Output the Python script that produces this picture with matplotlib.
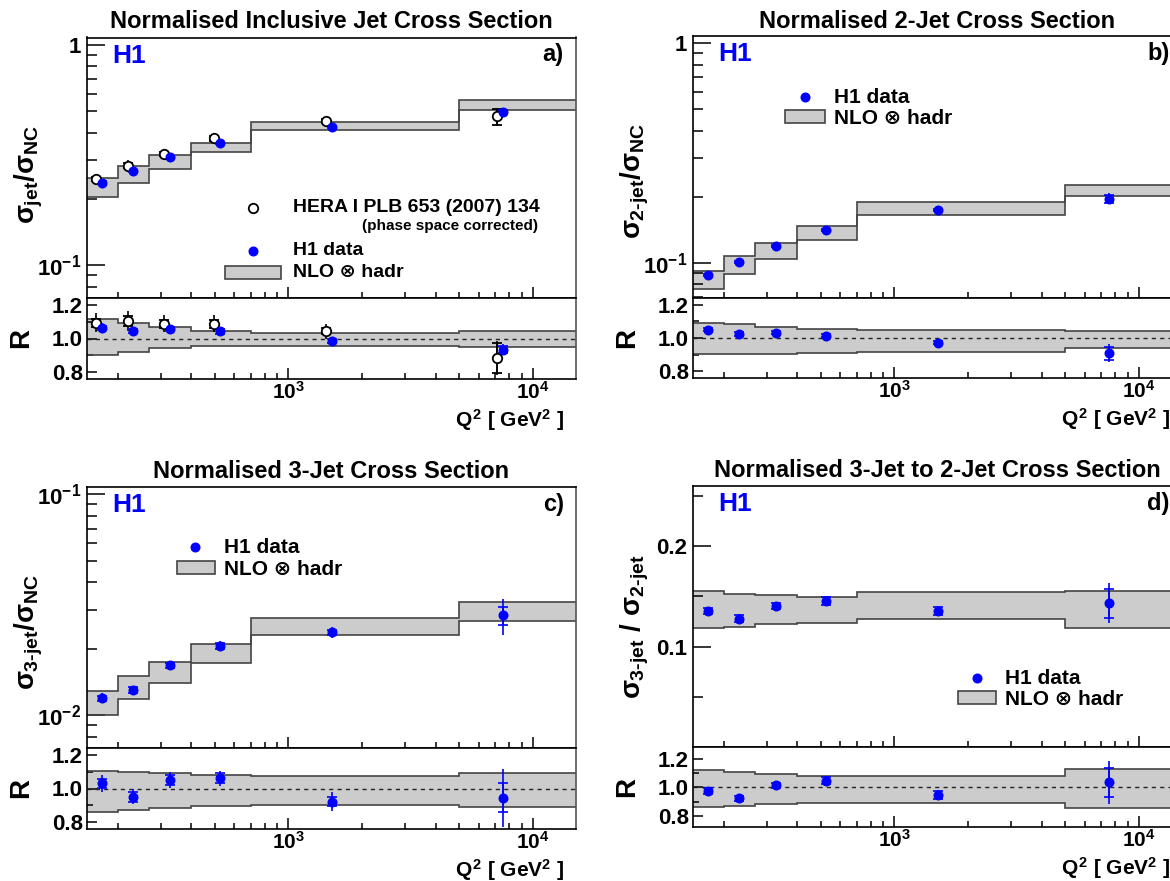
import matplotlib
matplotlib.use('Agg')
import matplotlib.pyplot as plt
from matplotlib.patches import Rectangle

plt.rcParams['font.family'] = ['Liberation Sans', 'DejaVu Sans']
plt.rcParams['font.weight'] = 'bold'
plt.rcParams['mathtext.fontset'] = 'custom'
plt.rcParams['mathtext.rm'] = 'Liberation Sans:bold'
plt.rcParams['mathtext.it'] = 'Liberation Sans:bold'
plt.rcParams['mathtext.bf'] = 'Liberation Sans:bold'
plt.rcParams['mathtext.sf'] = 'Liberation Sans:bold'

# ---------------- data ----------------
q2_edges = [150, 200, 270, 400, 700, 5000, 15000]
x_h1 = [173, 232, 327, 523, 1500, 7560]
x_hera = [164, 220, 310, 495, 1425, 7150]
xtick_vals = [1e3, 1e4]
xtick_labels = [r'$10^{3}$', r'$10^{4}$']

# panel a: inclusive jet
h1_a = [0.237, 0.267, 0.309, 0.359, 0.424, 0.498]
h1_a_tot = [0.006, 0.006, 0.007, 0.008, 0.009, 0.017]
h1_a_stat = [0.003, 0.003, 0.003, 0.004, 0.004, 0.009]
hera_a = [0.246, 0.283, 0.320, 0.376, 0.450, 0.474]
hera_a_tot = [0.013, 0.016, 0.016, 0.018, 0.020, 0.045]
hera_a_stat = [0.006, 0.007, 0.007, 0.008, 0.009, 0.040]
nlo_a_lo = [0.2045, 0.237, 0.274, 0.326, 0.411, 0.508]
nlo_a_hi = [0.250, 0.281, 0.315, 0.360, 0.445, 0.560]
r_h1_a = [1.060, 1.044, 1.054, 1.042, 0.984, 0.934]
r_h1_a_tot = [0.030, 0.025, 0.025, 0.022, 0.020, 0.035]
r_h1_a_stat = [0.012, 0.012, 0.012, 0.014, 0.012, 0.020]
r_hera_a = [1.094, 1.104, 1.088, 1.088, 1.044, 0.884]
r_hera_a_tot = [0.058, 0.060, 0.050, 0.050, 0.045, 0.100]
r_hera_a_stat = [0.025, 0.030, 0.025, 0.025, 0.020, 0.090]
r_band_a_lo = [0.904, 0.922, 0.942, 0.958, 0.956, 0.952]
r_band_a_hi = [1.114, 1.094, 1.068, 1.046, 1.034, 1.044]

# panel b: 2-jet
h1_b = [0.0882, 0.1007, 0.119, 0.1413, 0.174, 0.196]
h1_b_tot = [0.0025, 0.0025, 0.003, 0.0035, 0.004, 0.011]
h1_b_stat = [0.001, 0.001, 0.0012, 0.0015, 0.002, 0.008]
nlo_b_lo = [0.0757, 0.0885, 0.1043, 0.1272, 0.165, 0.202]
nlo_b_hi = [0.0914, 0.107, 0.1233, 0.1474, 0.189, 0.226]
r_h1_b = [1.050, 1.024, 1.032, 1.014, 0.972, 0.908]
r_h1_b_tot = [0.025, 0.020, 0.020, 0.020, 0.020, 0.055]
r_h1_b_stat = [0.010, 0.010, 0.010, 0.010, 0.010, 0.040]
r_band_b_lo = [0.904, 0.902, 0.906, 0.908, 0.918, 0.938]
r_band_b_hi = [1.092, 1.082, 1.064, 1.056, 1.050, 1.044]

# panel c: 3-jet
h1_c = [0.01195, 0.0130, 0.0168, 0.0206, 0.0237, 0.0283]
h1_c_tot = [0.0006, 0.0006, 0.0008, 0.0010, 0.0014, 0.0052]
h1_c_stat = [0.0003, 0.0004, 0.0005, 0.0006, 0.0006, 0.0026]
nlo_c_lo = [0.0100, 0.01187, 0.01403, 0.01726, 0.0230, 0.0266]
nlo_c_hi = [0.0129, 0.0150, 0.01745, 0.0210, 0.0276, 0.0327]
r_h1_c = [1.030, 0.950, 1.050, 1.060, 0.922, 0.944]
r_h1_c_tot = [0.050, 0.045, 0.048, 0.046, 0.057, 0.175]
r_h1_c_stat = [0.025, 0.028, 0.030, 0.030, 0.028, 0.086]
r_band_c_lo = [0.862, 0.874, 0.886, 0.896, 0.900, 0.890]
r_band_c_hi = [1.106, 1.098, 1.090, 1.078, 1.076, 1.094]

# panel d: 3-jet / 2-jet
h1_d = [0.1355, 0.1280, 0.1405, 0.1458, 0.1352, 0.1432]
h1_d_tot = [0.004, 0.004, 0.004, 0.005, 0.005, 0.020]
h1_d_stat = [0.003, 0.003, 0.003, 0.004, 0.004, 0.0143]
nlo_d_lo = [0.119, 0.120, 0.1223, 0.1236, 0.1276, 0.119]
nlo_d_hi = [0.155, 0.1528, 0.1512, 0.1498, 0.1542, 0.155]
r_h1_d = [0.976, 0.922, 1.014, 1.047, 0.946, 1.035]
r_h1_d_tot = [0.030, 0.030, 0.030, 0.035, 0.035, 0.150]
r_h1_d_stat = [0.020, 0.020, 0.020, 0.025, 0.025, 0.100]
r_band_d_lo = [0.859, 0.868, 0.882, 0.892, 0.892, 0.856]
r_band_d_hi = [1.122, 1.106, 1.092, 1.080, 1.080, 1.127]

titles = ['Normalised Inclusive Jet Cross Section', 'Normalised 2-Jet Cross Section',
          'Normalised 3-Jet Cross Section', 'Normalised 3-Jet to 2-Jet Cross Section']
ylabels = [r'$\sigma_{jet}/\sigma_{NC}$', r'$\sigma_{\text{2-jet}}/\sigma_{NC}$',
           r'$\sigma_{\text{3-jet}}/\sigma_{NC}$', r'$\sigma_{\text{3-jet}}\ /\ \sigma_{\text{2-jet}}$']
letters = ['a)', 'b)', 'c)', 'd)']

# ---------------- figure ----------------
W, H = 1170, 881
fig = plt.figure(figsize=(W / 100, H / 100), dpi=100)

BLUE = '#0000ff'
FILL = '#cccccc'
EDGE = '#444444'
TICK_FS = 16


def add_ax(left, right, top, bottom):
    return fig.add_axes([left / W, 1 - bottom / H, (right - left) / W, (bottom - top) / H])


def style_x(ax, labels):
    ax.set_xscale('log')
    ax.set_xlim(q2_edges[0], q2_edges[-1])
    ax.set_xticks(xtick_vals)
    ax.set_xticks([v * m for v in (100, 1000) for m in range(2, 10)
                   if q2_edges[0] <= v * m <= q2_edges[-1]], minor=True)
    if labels:
        ax.set_xticklabels(xtick_labels, fontsize=15)
    else:
        ax.set_xticklabels([])
    ax.xaxis.set_minor_formatter(plt.NullFormatter())
    ax.tick_params(axis='x', which='major', direction='in', length=8, width=1.1,
                   top=False, bottom=True, pad=1.5)
    ax.tick_params(axis='x', which='minor', direction='in', length=4.5, width=1.1,
                   top=False, bottom=True)


def band(ax, lo, hi):
    ax.stairs(hi, q2_edges, baseline=lo, fill=True, color=FILL, lw=0, zorder=1)
    ax.stairs(hi, q2_edges, baseline=None, color=EDGE, lw=1.2, zorder=2)
    ax.stairs(lo, q2_edges, baseline=None, color=EDGE, lw=1.2, zorder=2)


def points(ax, x, y, tot, stat, color=BLUE, open_=False):
    ax.errorbar(x, y, yerr=tot, fmt='none', ecolor=color, elinewidth=1.2, capsize=0, zorder=4)
    if open_:
        ax.errorbar(x, y, yerr=stat, fmt='o', color=color, mfc='white', mec=color, mew=1.3,
                    ms=6.8, ecolor=color, elinewidth=1.2, capsize=3.5, capthick=1.2, zorder=5)
    else:
        ax.errorbar(x, y, yerr=stat, fmt='o', color=color, ms=6.2, ecolor=color,
                    elinewidth=1.2, capsize=3.5, capthick=1.2, zorder=5)


def frame(ax):
    for s in ax.spines.values():
        s.set_linewidth(1.2)
        s.set_color('black')
    ax.spines['right'].set_color('#555555')


panels = [
    dict(box=(87, 576, 37.5, 298, 379), data=(h1_a, h1_a_tot, h1_a_stat), nlo=(nlo_a_lo, nlo_a_hi),
         r=(r_h1_a, r_h1_a_tot, r_h1_a_stat), rb=(r_band_a_lo, r_band_a_hi), ylog=True,
         ylim=(0.071, 1.08), yt=[0.1, 1], ytl=[r'$10^{-1}$', '1'], rylim=(0.758, 1.242),
         ylab_y=0.473, title_y=22),
    dict(box=(693, 1182, 36, 298, 378), data=(h1_b, h1_b_tot, h1_b_stat), nlo=(nlo_b_lo, nlo_b_hi),
         r=(r_h1_b, r_h1_b_tot, r_h1_b_stat), rb=(r_band_b_lo, r_band_b_hi), ylog=True,
         ylim=(0.069, 1.08), yt=[0.1, 1], ytl=[r'$10^{-1}$', '1'], rylim=(0.758, 1.242),
         ylab_y=0.447, title_y=21),
    dict(box=(87, 576, 487, 748, 829), data=(h1_c, h1_c_tot, h1_c_stat), nlo=(nlo_c_lo, nlo_c_hi),
         r=(r_h1_c, r_h1_c_tot, r_h1_c_stat), rb=(r_band_c_lo, r_band_c_hi), ylog=True,
         ylim=(0.0071, 0.108), yt=[0.01, 0.1], ytl=[r'$10^{-2}$', r'$10^{-1}$'], rylim=(0.758, 1.242),
         ylab_y=0.444, title_y=472),
    dict(box=(693, 1182, 486, 747, 827), data=(h1_d, h1_d_tot, h1_d_stat), nlo=(nlo_d_lo, nlo_d_hi),
         r=(r_h1_d, r_h1_d_tot, r_h1_d_stat), rb=(r_band_d_lo, r_band_d_hi), ylog=False,
         ylim=(0.0, 0.26), yt=[0.1, 0.2], ytl=['0.1', '0.2'], rylim=(0.72, 1.285),
         ylab_y=0.46, title_y=470),
]

axes_main = []
for i, p in enumerate(panels):
    L, R, T, M, B = p['box']
    ax = add_ax(L, R, T, M)
    axr = add_ax(L, R, M, B)
    axes_main.append(ax)

    # main
    band(ax, *p['nlo'])
    if i == 0:
        points(ax, x_hera, hera_a, hera_a_tot, hera_a_stat, color='black', open_=True)
    points(ax, x_h1, *p['data'])
    style_x(ax, False)
    if p['ylog']:
        ax.set_yscale('log')
        ax.set_ylim(*p['ylim'])
        lo_dec = p['yt'][0] / 10
        minors = [lo_dec * 10 ** k * m for k in range(3) for m in range(2, 10)]
        minors = [v for v in minors if p['ylim'][0] <= v <= p['ylim'][1]]
        ax.set_yticks(minors, minor=True)
    else:
        ax.set_ylim(*p['ylim'])
        ax.set_yticks([0.05, 0.15, 0.25], minor=True)
    ax.set_yticks(p['yt'])
    ax.set_yticklabels(p['ytl'], fontsize=TICK_FS)
    ax.yaxis.set_minor_formatter(plt.NullFormatter())
    ax.tick_params(axis='y', which='major', direction='in', length=13, width=1.1, right=False, pad=4)
    ax.tick_params(axis='y', which='minor', direction='in', length=7, width=1.1, right=False)
    frame(ax)

    ax.text(0.051, 0.93, 'H1', transform=ax.transAxes, color=BLUE, fontsize=19,
            fontweight='bold', ha='left', va='center')
    ax.text(0.975, 0.933, letters[i], transform=ax.transAxes, fontsize=17,
            fontweight='bold', ha='right', va='center')
    ax.text(-0.118, p['ylab_y'], ylabels[i], transform=ax.transAxes, rotation=90,
            fontsize=20, ha='center', va='center')
    fig.text((L + R) / 2 / W, 1 - p['title_y'] / H, titles[i], fontsize=17,
             fontweight='bold', ha='center', va='center')

    # ratio
    band(axr, *p['rb'])
    axr.axhline(1.0, color='#222222', lw=1.0, ls=(0, (3, 3)), zorder=3)
    if i == 0:
        points(axr, x_hera, r_hera_a, r_hera_a_tot, r_hera_a_stat, color='black', open_=True)
    points(axr, x_h1, *p['r'])
    style_x(axr, True)
    axr.set_ylim(*p['rylim'])
    axr.set_yticks([0.8, 1.0, 1.2])
    axr.set_yticklabels(['0.8', '1.0', '1.2'], fontsize=TICK_FS)
    axr.set_yticks([0.9, 1.1], minor=True)
    axr.yaxis.set_minor_formatter(plt.NullFormatter())
    axr.tick_params(axis='y', which='major', direction='in', length=7.5, width=1.1, right=False, pad=3)
    axr.tick_params(axis='y', which='minor', direction='in', length=4, width=1.1, right=False)
    frame(axr)
    axr.text(-0.135, 0.5, 'R', transform=axr.transAxes, rotation=90, fontsize=20,
             ha='center', va='center')
    axr.text(0.975, -41.0 / (B - M), r'$Q^{2}$ [ GeV$^{2}$ ]',
             transform=axr.transAxes, fontsize=15, ha='right', va='center')

# ---------------- legends ----------------
LEG_FS_A = 14
LEG_FS = 15
ax = axes_main[0]
ax.plot([0.339], [0.346], 'o', transform=ax.transAxes, mfc='white', mec='black', mew=1.3, ms=6.8, clip_on=False)
ax.text(0.421, 0.346, 'HERA I PLB 653 (2007) 134', transform=ax.transAxes, fontsize=LEG_FS_A, va='center')
ax.text(0.922, 0.277, '(phase space corrected)', transform=ax.transAxes, fontsize=11, va='center', ha='right')
ax.plot([0.339], [0.181], 'o', transform=ax.transAxes, color=BLUE, ms=6.2, clip_on=False)
ax.text(0.421, 0.181, 'H1 data', transform=ax.transAxes, fontsize=LEG_FS_A, va='center')
ax.add_patch(Rectangle((0.282, 0.073), 0.115, 0.050, transform=ax.transAxes, fc=FILL, ec=EDGE, lw=1.2))
ax.text(0.421, 0.096, 'NLO ⊗ hadr', transform=ax.transAxes, fontsize=LEG_FS_A, va='center')

leg_pos = [None,
           dict(dot=(0.229, 0.767), tx=0.288, box=(0.188, 0.668, 0.082, 0.050), ny=0.687),
           dict(dot=(0.221, 0.770), tx=0.280, box=(0.184, 0.667, 0.078, 0.049), ny=0.686),
           dict(dot=(0.581, 0.264), tx=0.638, box=(0.542, 0.165, 0.078, 0.050), ny=0.184)]
for i in (1, 2, 3):
    ax = axes_main[i]
    lp = leg_pos[i]
    ax.plot([lp['dot'][0]], [lp['dot'][1]], 'o', transform=ax.transAxes, color=BLUE, ms=6.2, clip_on=False)
    ax.text(lp['tx'], lp['dot'][1], 'H1 data', transform=ax.transAxes, fontsize=LEG_FS, va='center')
    bx, by, bw, bh = lp['box']
    ax.add_patch(Rectangle((bx, by), bw, bh, transform=ax.transAxes, fc=FILL, ec=EDGE, lw=1.2))
    ax.text(lp['tx'], lp['ny'], 'NLO ⊗ hadr', transform=ax.transAxes, fontsize=LEG_FS, va='center')

fig.savefig('out.png', dpi=100)
